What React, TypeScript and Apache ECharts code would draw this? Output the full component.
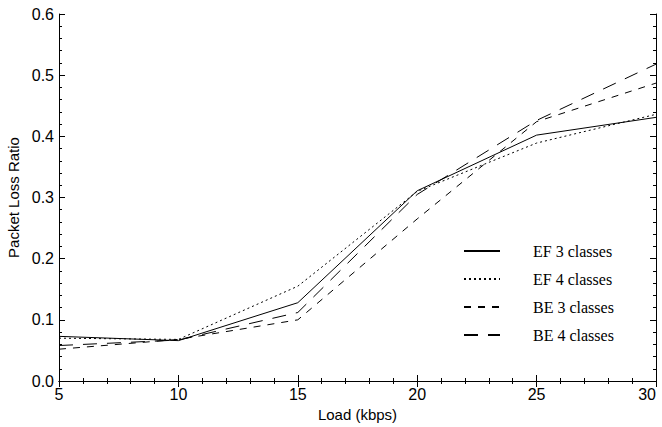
import React, { useEffect, useRef } from "react";
import * as echarts from "echarts";

const loads = [5, 10, 15, 20, 25, 30];
const ef3 = [0.073, 0.066, 0.128, 0.311, 0.402, 0.431];
const ef4 = [0.07, 0.068, 0.155, 0.31, 0.389, 0.436];
const be3 = [0.052, 0.068, 0.1, 0.265, 0.424, 0.487];
const be4 = [0.058, 0.067, 0.112, 0.305, 0.426, 0.518];
const seriesNames = ["EF 3 classes", "EF 4 classes", "BE 3 classes", "BE 4 classes"];

const mk = (name: string, vals: number[], type: any) => ({
  name,
  type: "line",
  data: loads.map((x, i) => [x, vals[i]]),
  symbol: "none",
  lineStyle: { color: "#000", width: 1, type },
  itemStyle: { color: "#000" },
});

export default function App() {
  const ref = useRef<HTMLDivElement>(null);
  useEffect(() => {
    document.body.style.margin = "0";
    const chart = echarts.init(ref.current!, null, { renderer: "svg" });
    const axisCommon = {
      type: "value",
      axisLine: { show: true, lineStyle: { color: "#000", width: 1 } },
      axisTick: { show: true, inside: true, length: 6, lineStyle: { color: "#000" } },
      minorTick: { show: true, splitNumber: 5, length: 3, lineStyle: { color: "#000" } },
      splitLine: { show: false },
    };
    chart.setOption({
      animation: false,
      backgroundColor: "#fff",
      grid: { left: 59, right: 6, top: 14, bottom: 46, outerBoundsMode: "none", containLabel: false },
      xAxis: [
        {
          ...axisCommon,
          position: "bottom",
          min: 5,
          max: 30,
          interval: 5,
          name: "Load (kbps)",
          nameLocation: "middle",
          nameGap: 21,
          nameTextStyle: { fontFamily: "Liberation Sans", fontSize: 15, color: "#000" },
          axisLabel: {
            fontFamily: "Liberation Sans",
            fontSize: 16,
            color: "#000",
            margin: 5,
            alignMaxLabel: "right",
          },
        },
        {
          ...axisCommon,
          position: "top",
          min: 5,
          max: 30,
          interval: 5,
          axisLabel: { show: false },
        },
      ],
      yAxis: [
        {
          ...axisCommon,
          position: "left",
          min: 0,
          max: 0.6,
          interval: 0.1,
          name: "Packet Loss Ratio",
          nameLocation: "middle",
          nameGap: 35,
          nameTextStyle: { fontFamily: "Liberation Sans", fontSize: 15, color: "#000" },
          axisLabel: {
            fontFamily: "Liberation Sans",
            fontSize: 16,
            color: "#000",
            margin: 5,
            formatter: (v: number) => v.toFixed(1),
          },
        },
        {
          ...axisCommon,
          position: "right",
          min: 0,
          max: 0.6,
          interval: 0.1,
          axisLabel: { show: false },
        },
      ],
      legend: {
        orient: "vertical",
        left: 463,
        top: 242,
        padding: 0,
        itemWidth: 36,
        itemHeight: 14,
        itemGap: 10,
        data: seriesNames,
        itemStyle: { opacity: 0 },
        textStyle: {
          fontFamily: "Liberation Serif",
          fontSize: 16,
          color: "#000",
          lineHeight: 18,
          padding: [0, 0, 0, 28],
        },
      },
      series: [
        mk(seriesNames[0], ef3, "solid"),
        mk(seriesNames[1], ef4, [2, 3]),
        mk(seriesNames[2], be3, [7, 7]),
        mk(seriesNames[3], be4, [14, 10]),
      ],
    });
    return () => chart.dispose();
  }, []);
  return <div ref={ref} style={{ width: 662, height: 427 }} />;
}
